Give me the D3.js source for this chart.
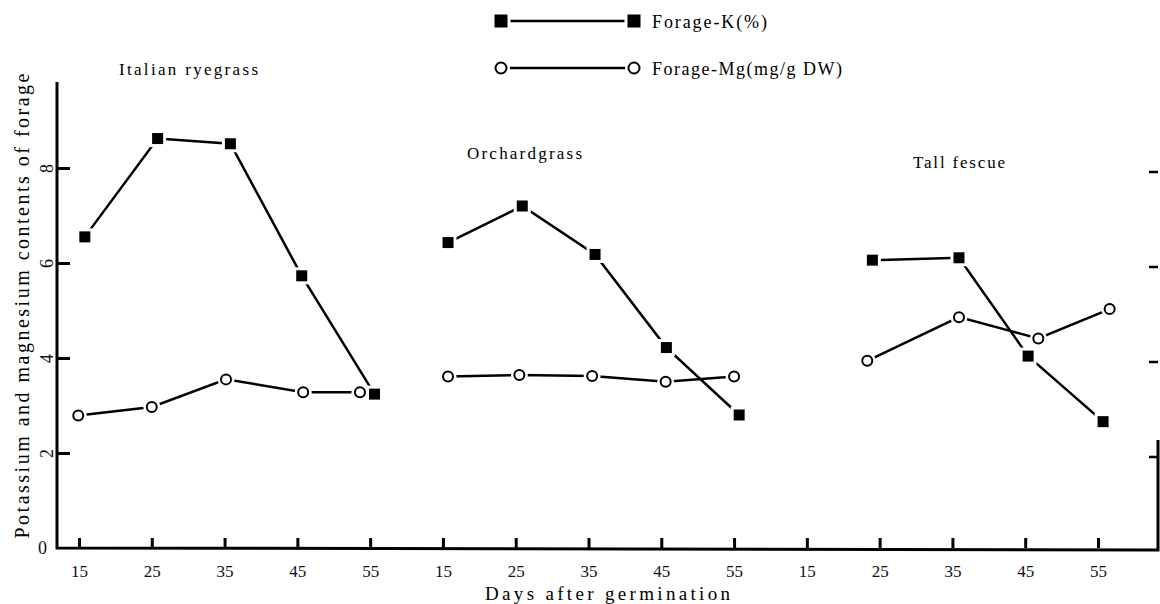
<!DOCTYPE html>
<html>
<head>
<meta charset="utf-8">
<script src="https://cdn.jsdelivr.net/npm/d3@7"></script>
<style>
  html, body { margin: 0; padding: 0; background: #fff; }
  svg, svg text { font-family: "Liberation Serif", "Tinos", "Times New Roman", "DejaVu Serif", serif; }
</style>
</head>
<body>
<div id="chart"></div>
<script>
// panels and axis ticks
var panels = ["Italian ryegrass", "Orchardgrass", "Tall fescue"];
var dayTicks = [15, 25, 35, 45, 55];
var yTicks = [0, 2, 4, 6, 8];

// Forage-K (%) per panel, days
var kDays = [[15.8, 25.8, 35.8, 45.6, 55.6], [15.7, 25.9, 35.9, 45.7, 55.7], [24.0, 35.9, 45.4, 55.7]];
var kValues = [[6.55, 8.62, 8.51, 5.73, 3.24], [6.43, 7.2, 6.18, 4.22, 2.8], [6.06, 6.11, 4.04, 2.66]];

// Forage-Mg (mg/g DW) per panel
var mgDays = [[14.9, 25.0, 35.2, 45.8, 53.6], [15.7, 25.5, 35.5, 45.6, 55.0], [23.3, 35.9, 46.8, 56.6]];
var mgValues = [[2.79, 2.97, 3.55, 3.28, 3.28], [3.61, 3.64, 3.62, 3.5, 3.61], [3.94, 4.86, 4.41, 5.03]];

var legendLabels = ["Forage-K(%)", "Forage-Mg(mg/g DW)"];

var width = 1160, height = 604;
var panelShift = 50; // each panel is laid after the previous one on one day axis

var svg = d3.select("#chart")
	.append("svg")
	.attr("width", width)
	.attr("height", height);

var x = d3.scaleLinear()
	.domain([15, 15 + 2 * panelShift + 40])
	.range([79, 1098]);

var y = d3.scaleLinear()
	.domain([0, 8])
	.range([548, 168]);

var pos = (p, d) => x(d + p * panelShift);

// x axis: all 15 ticks
var xTickVals = [];
panels.forEach((p, i) => dayTicks.forEach(d => xTickVals.push(d + i * panelShift)));

var xAxis = svg.append("g")
	.attr("transform", "translate(0," + y(0) + ")")
	.call(d3.axisBottom(x)
		.tickValues(xTickVals)
		.tickSize(-10)
		.tickPadding(17)
		.tickFormat(v => (v - 15) % panelShift + 15))
	.attr("font-family", null)
	.attr("font-size", 17);
xAxis.select(".domain").remove();
xAxis.selectAll(".tick line").attr("stroke", "#000").attr("stroke-width", 3);
xAxis.selectAll(".tick text").attr("fill", "#111");

// y axis
var yAxis = svg.append("g")
	.attr("transform", "translate(57,0)")
	.call(d3.axisLeft(y)
		.tickValues(yTicks)
		.tickSize(-13)
		.tickPadding(10))
	.attr("font-family", null)
	.attr("font-size", 18);
yAxis.select(".domain").remove();
yAxis.selectAll(".tick line").attr("stroke", "#000").attr("stroke-width", 3)
	.filter(d => d == 0).remove();
yAxis.selectAll(".tick text").attr("fill", "#111");
yAxis.selectAll(".tick text").filter(d => d != 0)
	.attr("x", 0)
	.attr("dy", 0)
	.attr("text-anchor", "middle")
	.attr("transform", "translate(-4,0) rotate(-90)");

// axis lines
svg.append("path")
	.attr("d", d3.line()([[57, 82], [57, y(0)], [1158, y(0) + 2], [1158, 440]]))
	.attr("fill", "none")
	.attr("stroke", "#000")
	.attr("stroke-width", 3);

// short ticks at the right edge
svg.append("g").selectAll("line")
	.data(yTicks.filter(d => d > 0))
	.join("line")
	.attr("x1", 1149)
	.attr("x2", 1158)
	.attr("y1", d => y(d) + 4)
	.attr("y2", d => y(d) + 4)
	.attr("stroke", "#000")
	.attr("stroke-width", 2.5);

// axis titles
svg.append("text")
	.attr("transform", "translate(29,306) rotate(-90)")
	.attr("text-anchor", "middle")
	.attr("font-size", 20)
	.attr("textLength", 465)
	.attr("lengthAdjust", "spacing")
	.text("Potassium and magnesium contents of forage");

svg.append("text")
	.attr("x", 485)
	.attr("y", 600)
	.attr("font-size", 19)
	.attr("textLength", 245)
	.attr("lengthAdjust", "spacing")
	.text("Days after germination");

// panel titles
var titlePos = [[119, 75, 139], [467, 159, 115], [913, 168, 92]];
svg.append("g").selectAll("text")
	.data(panels)
	.join("text")
	.attr("x", (d, i) => titlePos[i][0])
	.attr("y", (d, i) => titlePos[i][1])
	.attr("font-size", 17)
	.attr("textLength", (d, i) => titlePos[i][2])
	.attr("lengthAdjust", "spacing")
	.text(d => d);

var line = d3.line();

function drawSeries(days, values) {
	var g = svg.append("g");
	days.forEach((ds, p) => {
		var pts = ds.map((d, i) => [pos(p, d), y(values[p][i])]);
		g.append("path")
			.attr("d", line(pts))
			.attr("fill", "none")
			.attr("stroke", "#000")
			.attr("stroke-width", 2.5);
	});
	return g;
}

function drawMarkers(g, pts, shape, size) {
	pts.forEach(([cx, cy]) => {
		if (shape == "square") {
			g.append("rect")
				.attr("x", cx - size / 2 - 3).attr("y", cy - size / 2 - 3)
				.attr("width", size + 6).attr("height", size + 6)
				.attr("fill", "#fff");
			g.append("rect")
				.attr("x", cx - size / 2).attr("y", cy - size / 2)
				.attr("width", size).attr("height", size)
				.attr("fill", "#000");
		} else {
			g.append("circle")
				.attr("cx", cx).attr("cy", cy).attr("r", size / 2 + 3.5)
				.attr("fill", "#fff");
			g.append("circle")
				.attr("cx", cx).attr("cy", cy).attr("r", size / 2)
				.attr("fill", "#fff")
				.attr("stroke", "#000")
				.attr("stroke-width", 2);
		}
	});
}

drawSeries(kDays, kValues);
drawSeries(mgDays, mgValues);

var markers = svg.append("g");
kDays.forEach((ds, p) => drawMarkers(markers, ds.map((d, i) => [pos(p, d), y(kValues[p][i])]), "square", 11));
mgDays.forEach((ds, p) => drawMarkers(markers, ds.map((d, i) => [pos(p, d), y(mgValues[p][i])]), "circle", 10));

// legend
var legendY = [21, 68];
var legend = svg.append("g");
legendLabels.forEach((lab, i) => {
	legend.append("line")
		.attr("x1", 501).attr("x2", 634)
		.attr("y1", legendY[i]).attr("y2", legendY[i])
		.attr("stroke", "#000")
		.attr("stroke-width", 2.5);
	drawMarkers(legend, [[501, legendY[i]], [634, legendY[i]]], i == 0 ? "square" : "circle", i == 0 ? 13 : 11);
	legend.append("text")
		.attr("x", 652)
		.attr("y", legendY[i] + 7)
		.attr("font-size", 18)
		.attr("textLength", i == 0 ? 115 : 190)
		.attr("lengthAdjust", "spacing")
		.text(lab);
});
</script>
</body>
</html>
